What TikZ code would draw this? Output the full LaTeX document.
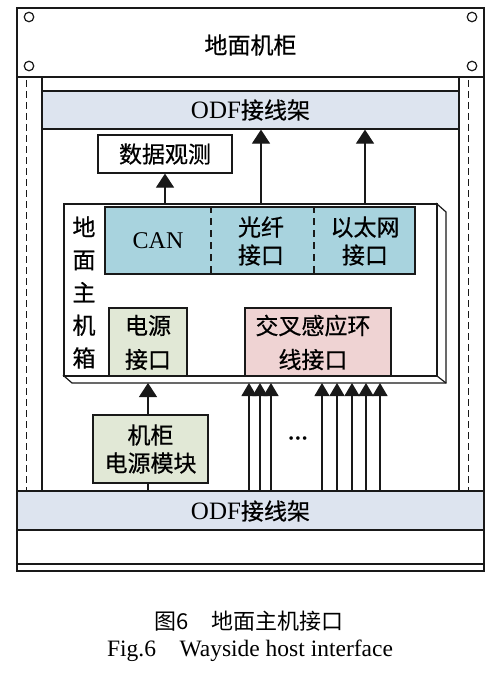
\documentclass[tikz,border=0pt]{standalone}
\usepackage{fontspec}
\setmainfont{Liberation Serif}
\newfontfamily\cjk[FakeBold=0.6]{Noto Sans CJK SC}
\newfontfamily\capcjk{Noto Sans CJK SC}
\usetikzlibrary{arrows.meta}
\definecolor{odfc}{HTML}{DDE4EF}
\definecolor{bluec}{HTML}{A8D3DE}
\definecolor{greenc}{HTML}{E1E8D6}
\definecolor{pinkc}{HTML}{EFD3D3}
\tikzset{
  ln/.style={line width=1.2pt, draw=black!90},
  thickln/.style={line width=2.6pt, draw=black!90},
  boxn/.style={ln, inner sep=0pt, align=center},
  txt/.style={inner sep=0pt, align=center, font=\fontsize{23}{28}\selectfont\cjk},
  arr/.style={ln, -{Triangle[length=14pt,width=18pt]}},
  arrs/.style={ln, -{Triangle[length=13pt,width=15pt]}},
  hole/.style={ln, line width=1.2pt, circle, minimum size=9.5pt, inner sep=0pt}
}
\begin{document}
\begin{tikzpicture}[x=1pt,y=-1pt]
\useasboundingbox (0,0) rectangle (496,674);
% cabinet outline
\draw[ln] (17,8) rectangle (484,571);
\node[txt] (cabtxt) at (250.5,45) {地面机柜};
\node[hole] (h1) at (29,17) {};
\node[hole] (h2) at (29,66) {};
\node[hole] (h3) at (472,17) {};
\node[hole] (h4) at (472,66) {};
% rails
\draw[ln] (42,77) -- (42,491);
\draw[ln] (459,77) -- (459,491);
\draw[ln, line width=1pt, dash pattern=on 7pt off 4pt] (26,80) -- (26,490);
\draw[ln, line width=1pt, dash pattern=on 7pt off 4pt] (468,80) -- (468,490);
% ODF frames
\node[boxn, fill=odfc, minimum width=417, minimum height=38] (odfT) at (250.5,110) {};
\node[txt] (odfTt) at (250.5,110) {{\rmfamily\fontsize{25}{28}\selectfont ODF}接线架};
\node[boxn, fill=odfc, minimum width=467, minimum height=39] (odfB) at (250.5,510.5) {};
\node[txt] (odfBt) at (250.5,511) {{\rmfamily\fontsize{25}{28}\selectfont ODF}接线架};
\draw[thickln] (17,77) -- (484,77);
\draw[thickln] (17,491) -- (484,491);
\draw[ln] (17,564) -- (484,564);
% data observation
\node[boxn, minimum width=134, minimum height=38] (obs) at (165,154) {};
\node[txt] (obst) at (165,154) {数据观测};
% host box (prism)
\coordinate (hb) at (446,383);
\draw[ln, fill=white] (437,204) -- (446,212) -- (446,383) -- (72,383) -- (64,376) -- (437,376) -- cycle;
\draw[ln] (437,376) -- (446,383);
\node[boxn, fill=white, minimum width=373, minimum height=172] (host) at (250.5,290) {};
\node[txt, font=\fontsize{23}{32.75}\selectfont\cjk] (hostl) at (84,292.5) {地\\面\\主\\机\\箱};
% network interfaces
\node[boxn, fill=bluec, minimum width=310, minimum height=67] (net) at (260,240.5) {};
\draw[ln, dash pattern=on 7pt off 5pt] (net.north -| 211,0) -- (net.south -| 211,0);
\draw[ln, dash pattern=on 7pt off 5pt] (net.north -| 314,0) -- (net.south -| 314,0);
\node[txt, font=\rmfamily\fontsize{24}{28}\selectfont] (can) at (158,241) {CAN};
\node[txt] (fiber) at (261,241) {光纤\\接口};
\node[txt] (eth) at (365,241) {以太网\\接口};
% lower interfaces
\node[boxn, fill=greenc, minimum width=78, minimum height=68] (pwrif) at (148,342) {};
\node[txt, font=\fontsize{23}{34}\selectfont\cjk] (pwrift) at (148,342.5) {电源\\接口};
\node[boxn, fill=pinkc, minimum width=146, minimum height=68] (loopif) at (318,342) {};
\node[txt, font=\fontsize{23}{34}\selectfont\cjk] (loopift) at (313,342.5) {交叉感应环\\线接口};
% power module
\node[boxn, fill=greenc, minimum width=115, minimum height=68] (pwrmod) at (150.5,449) {};
\node[txt] (pwrmodt) at (150.5,449) {机柜\\电源模块};
% connectors
\draw[arr] (host.north -| obs.south) -- (obs.south);
\draw[arr] (host.north -| fiber) -- (odfT.south -| fiber);
\draw[arr] (host.north -| eth) -- (odfT.south -| eth);
\draw[arr] (pwrif.south |- pwrmod.north) -- (pwrif.south |- hb);
\draw[ln] (pwrif.south |- pwrmod.south) -- (pwrif.south |- odfB.north);
\foreach \x in {249,260,271,322,337,352,366,380}
  \draw[arrs] (odfB.north -| \x,0) -- (hb -| \x,0);
\node[inner sep=0pt, font=\fontsize{15}{16}\selectfont] (dots) at (298,440) {\textbullet\hspace{1.5pt}\textbullet\hspace{1.5pt}\textbullet};
% caption
\node[txt, font=\fontsize{22}{26}\selectfont\capcjk] (cap1) at (249,621) {图6\quad 地面主机接口};
\node[inner sep=0pt, font=\fontsize{23.5}{26}\selectfont] (cap2) at (250,651) {Fig.6\quad Wayside host interface};
\end{tikzpicture}
\end{document}
